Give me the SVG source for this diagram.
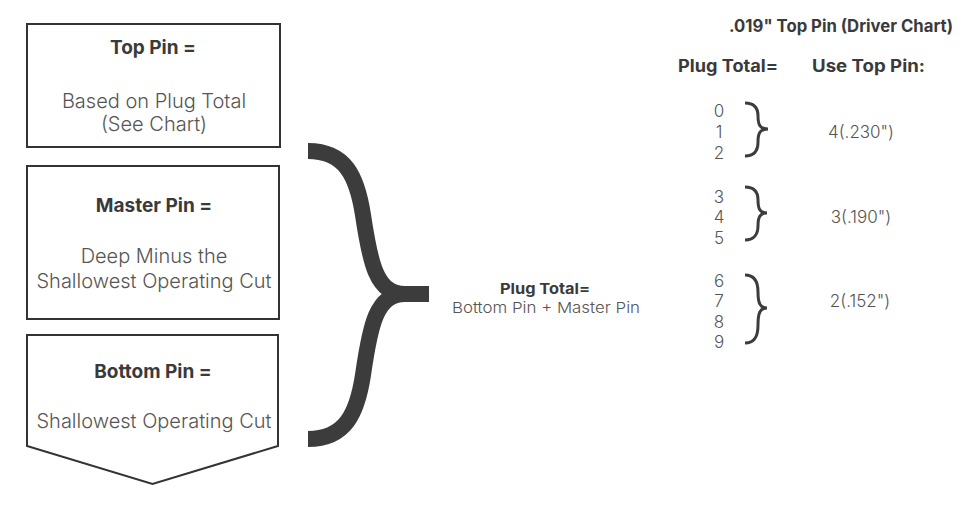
<svg xmlns="http://www.w3.org/2000/svg" width="964" height="506" viewBox="0 0 964 506">
<style>
.box{fill:#fff;stroke:#333;stroke-width:2}
.h{font-family:Inter,"Liberation Sans",sans-serif;font-weight:700;fill:#3a3a3a}
.t{font-family:Inter,"Liberation Sans",sans-serif;font-weight:300;fill:#555}
.big{font-size:19px}
.body{font-size:20px}
.ch{font-size:17px}
.mid{font-size:15px}
.num{font-size:17px}
.br{fill:none;stroke:#3c3c3c}
</style>
<rect width="964" height="506" fill="#fff"/>
<g id="top-pin">
<rect class="box" x="27" y="24" width="253" height="123"/>
<text class="h big" x="153" y="54" text-anchor="middle">Top Pin =</text>
<text class="t body" x="154" y="108" text-anchor="middle">Based on Plug Total</text>
<text class="t body" x="154" y="131" text-anchor="middle">(See Chart)</text>
</g>
<g id="master-pin">
<rect class="box" x="27" y="166" width="252" height="153"/>
<text class="h big" x="154" y="212" text-anchor="middle">Master Pin =</text>
<text class="t body" x="154" y="263" text-anchor="middle">Deep Minus the</text>
<text class="t body" x="154" y="288" text-anchor="middle">Shallowest Operating Cut</text>
</g>
<g id="bottom-pin">
<path class="box" d="M27,335 H278 V446 L152.5,484 L27,446 Z"/>
<text class="h big" x="153" y="378" text-anchor="middle">Bottom Pin =</text>
<text class="t body" x="154" y="428" text-anchor="middle">Shallowest Operating Cut</text>
</g>
<g id="connectors">
<path class="br" stroke-width="16" d="M308,151 C345,151 357,176 363,215 C370,262 376,294 405,294"/>
<path class="br" stroke-width="16" d="M308,439 C345,439 357,414 363,375 C370,326 376,294 405,294"/>
<path class="br" stroke-width="16" d="M398,294 H429"/>
</g>
<g id="plug-total">
<text class="h mid" x="545" y="294" text-anchor="middle" textLength="90" lengthAdjust="spacingAndGlyphs">Plug Total=</text>
<text class="t mid" x="546" y="313" text-anchor="middle" textLength="188" lengthAdjust="spacingAndGlyphs">Bottom Pin + Master Pin</text>
</g>
<g id="chart">
<text class="h ch" x="729" y="32" textLength="224" lengthAdjust="spacingAndGlyphs">.019" Top Pin (Driver Chart)</text>
<text class="h ch" x="678" y="72" textLength="100" lengthAdjust="spacingAndGlyphs">Plug Total=</text>
<text class="h ch" x="812" y="72" textLength="113" lengthAdjust="spacingAndGlyphs">Use Top Pin:</text>
<g class="t num" text-anchor="middle">
<text x="719" y="117">0</text>
<text x="719" y="138">1</text>
<text x="719" y="159">2</text>
<text x="719" y="203">3</text>
<text x="719" y="223">4</text>
<text x="719" y="244">5</text>
<text x="719" y="287">6</text>
<text x="719" y="307">7</text>
<text x="719" y="328">8</text>
<text x="719" y="348">9</text>
</g>
<g class="br" stroke-width="3">
<path d="M745,103 C755,103 758,109 758,116 C758,125 760,129 768,129 C760,129 758,133 758,142 C758,150 755,156 745,156"/>
<path d="M745,187 C755,187 758,193 758,200 C758,209 760,213 767,213 C760,213 758,217 758,226 C758,233 755,240 745,240"/>
<path d="M745,275 C755,275 758,282 758,292 C758,303 760,308 767,308 C760,308 758,313 758,325 C758,336 755,343 745,343"/>
</g>
<g class="t num" text-anchor="middle">
<text x="861" y="138">4(.230")</text>
<text x="861" y="223">3(.190")</text>
<text x="860" y="307">2(.152")</text>
</g>
</g>
</svg>
